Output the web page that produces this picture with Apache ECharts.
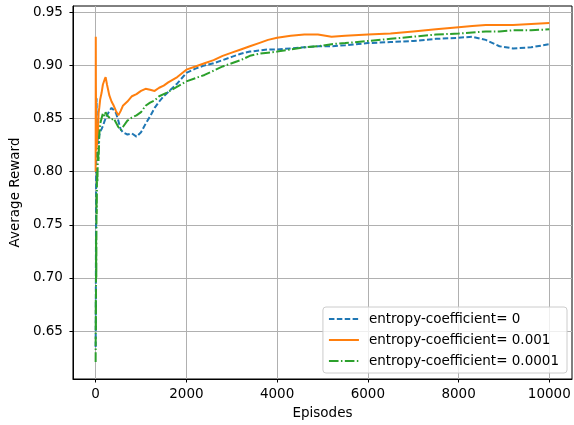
<!DOCTYPE html>
<html>
<head>
<meta charset="utf-8">
<script src="https://cdn.jsdelivr.net/npm/echarts@6/dist/echarts.min.js"></script>
<style>
  html, body { margin: 0; padding: 0; background: #fff; }
  #chart { width: 574px; height: 425px; }
</style>
</head>
<body>
<div id="chart"></div>
<script>
// episodes shared by the three runs (dense near the start)
const episodes = [0, 3, 6, 10, 15, 20, 25, 30, 40, 50, 65, 80, 100, 130, 160, 200, 220, 250, 300, 350,
  400, 450, 500, 550, 600, 700, 800, 900, 1000, 1100, 1200, 1300, 1400, 1500, 1600, 1800, 2000,
  2200, 2400, 2600, 2800, 3000, 3200, 3400, 3600, 3800, 4000, 4300, 4600, 4900, 5200, 5500,
  6000, 6500, 7000, 7500, 8000, 8300, 8600, 8900, 9200, 9600, 10000];

// entropy-coefficient = 0
const rewardCoef0 = [0.635, 0.66, 0.72, 0.78, 0.84, 0.869, 0.85, 0.835, 0.828, 0.832, 0.826, 0.834, 0.838, 0.84, 0.843, 0.848, 0.85, 0.853, 0.857, 0.86,
  0.858, 0.855, 0.848, 0.84, 0.837, 0.835, 0.836, 0.833, 0.837, 0.845, 0.852, 0.86, 0.866, 0.871, 0.875, 0.883, 0.893,
  0.897, 0.9, 0.902, 0.905, 0.908, 0.911, 0.913, 0.914, 0.915, 0.915, 0.916, 0.917, 0.918, 0.918, 0.919,
  0.921, 0.922, 0.923, 0.925, 0.926, 0.927, 0.924, 0.918, 0.916, 0.917, 0.92];

// entropy-coefficient = 0.001
const rewardCoef001 = [0.8, 0.927, 0.88, 0.85, 0.83, 0.82, 0.835, 0.825, 0.845, 0.835, 0.855, 0.86, 0.868, 0.874, 0.882, 0.887, 0.889, 0.882, 0.872, 0.866,
  0.862, 0.857, 0.853, 0.857, 0.862, 0.866, 0.871, 0.873, 0.876, 0.878, 0.877, 0.876, 0.879, 0.881, 0.884, 0.889, 0.896,
  0.899, 0.902, 0.905, 0.909, 0.912, 0.915, 0.918, 0.921, 0.924, 0.926, 0.928, 0.929, 0.929, 0.927, 0.928,
  0.929, 0.93, 0.932, 0.934, 0.936, 0.937, 0.938, 0.938, 0.938, 0.939, 0.94];

// entropy-coefficient = 0.0001
const rewardCoef0001 = [0.621, 0.68, 0.65, 0.74, 0.7, 0.78, 0.76, 0.8, 0.79, 0.822, 0.81, 0.835, 0.845, 0.85, 0.855, 0.852, 0.856, 0.853, 0.851, 0.849,
  0.85, 0.846, 0.842, 0.839, 0.842, 0.848, 0.851, 0.853, 0.856, 0.862, 0.865, 0.867, 0.871, 0.873, 0.875, 0.88, 0.885,
  0.888, 0.891, 0.895, 0.899, 0.902, 0.905, 0.909, 0.911, 0.912, 0.913, 0.915, 0.917, 0.918, 0.92, 0.921,
  0.923, 0.925, 0.927, 0.929, 0.93, 0.931, 0.932, 0.932, 0.933, 0.933, 0.934];

const xTicks = [0, 2000, 4000, 6000, 8000, 10000];
const yTicks = [0.65, 0.70, 0.75, 0.80, 0.85, 0.90, 0.95];

const FONT = 'DejaVu Sans';
const GRID_COLOR = '#b0b0b0';

function toPairs(values) {
  return episodes.map((ep, i) => [ep, values[i]]);
}

function lineSeries(name, values, color, dash) {
  return {
    name: name,
    type: 'line',
    data: toPairs(values),
    showSymbol: false,
    symbol: 'none',
    lineStyle: { color: color, width: 2, type: dash },
    itemStyle: { color: color },
  };
}

const chart = echarts.init(document.getElementById('chart'), null, { renderer: 'canvas' });
chart.setOption({
  animation: false,
  textStyle: { fontFamily: FONT },
  grid: {
    left: 72, right: 2, top: 6, bottom: 46,
    show: true, borderColor: '#000', borderWidth: 1,
  },
  legend: {
    orient: 'vertical',
    right: 7,
    bottom: 52,
    padding: [5, 8, 5, 5],
    itemGap: 7,
    itemWidth: 30,
    itemHeight: 14,
    backgroundColor: 'rgba(255,255,255,0.8)',
    borderColor: '#cccccc',
    borderWidth: 1,
    borderRadius: 3,
    textStyle: { fontFamily: FONT, fontSize: 13.5, color: '#000', padding: [0, 0, 0, 5] },
    itemStyle: { opacity: 0 },
    data: ['entropy-coefficient= 0', 'entropy-coefficient= 0.001', 'entropy-coefficient= 0.0001'],
  },
  xAxis: {
    type: 'value',
    min: -500,
    max: 10500,
    name: 'Episodes',
    nameLocation: 'middle',
    nameGap: 27,
    nameTextStyle: { fontFamily: FONT, fontSize: 13.5, color: '#000' },
    axisLine: { show: true, onZero: false, lineStyle: { color: '#000', width: 1 } },
    axisTick: { show: true, length: 3.5, lineStyle: { color: '#000' }, customValues: xTicks },
    axisLabel: {
      fontFamily: FONT, fontSize: 13.5, color: '#000', margin: 8,
      customValues: xTicks,
      formatter: (v) => String(v),
    },
    splitLine: { show: true, lineStyle: { color: GRID_COLOR, width: 1 } },
  },
  yAxis: {
    type: 'value',
    min: 0.6049,
    max: 0.9559,
    name: 'Average Reward',
    nameLocation: 'middle',
    nameGap: 46,
    nameTextStyle: { fontFamily: FONT, fontSize: 13.5, color: '#000' },
    axisLine: { show: true, onZero: false, lineStyle: { color: '#000', width: 1 } },
    axisTick: { show: true, length: 3.5, lineStyle: { color: '#000' }, customValues: yTicks },
    axisLabel: {
      fontFamily: FONT, fontSize: 13.5, color: '#000', margin: 10,
      customValues: yTicks,
      formatter: (v) => v.toFixed(2),
    },
    splitLine: { show: true, lineStyle: { color: GRID_COLOR, width: 1 } },
  },
  series: [
    lineSeries('entropy-coefficient= 0', rewardCoef0, '#1f77b4', [5.5, 2.4]),
    lineSeries('entropy-coefficient= 0.001', rewardCoef001, '#ff7f0e', 'solid'),
    lineSeries('entropy-coefficient= 0.0001', rewardCoef0001, '#2ca02c', [9.6, 2.4, 1.5, 2.4]),
  ],
});
</script>
</body>
</html>
